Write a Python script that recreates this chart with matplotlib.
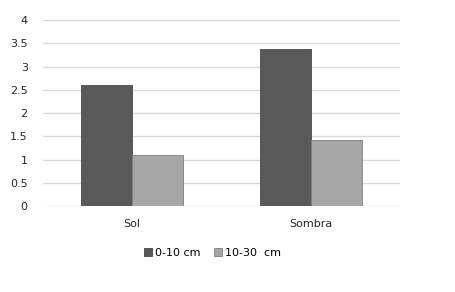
import matplotlib

matplotlib.use("Agg")
import matplotlib.pyplot as plt
import numpy as np

categories = ["Sol", "Sombra"]
series_names = ["0-10 cm", "10-30  cm"]
shallow = [2.6, 3.38]
deep = [1.1, 1.42]
y_ticks = [0, 0.5, 1, 1.5, 2, 2.5, 3, 3.5, 4]
y_tick_labels = ["0", "0.5", "1", "1.5", "2", "2.5", "3", "3.5", "4"]

plt.rcParams["font.family"] = "DejaVu Sans"
plt.rcParams["font.size"] = 8

fig = plt.figure(figsize=(4.55, 2.92), dpi=100)
ax = fig.add_axes([0.0945, 0.2945, 0.7845, 0.637])

x = np.arange(len(categories))
width = 0.286
ax.bar(x - width / 2, shallow, width, color="#595959", edgecolor="#4a4a4a",
       linewidth=0.6, label=series_names[0], zorder=3)
ax.bar(x + width / 2, deep, width, color="#a6a6a6", edgecolor="#808080",
       linewidth=0.6, label=series_names[1], zorder=3)

ax.set_xlim(-0.5, 1.5)
ax.set_ylim(0, 4)
ax.set_yticks(y_ticks, y_tick_labels)
ax.set_xticks(x, categories)
ax.yaxis.grid(True, color="#d9d9d9", linewidth=1.0, zorder=0)
for spine in ax.spines.values():
    spine.set_visible(False)
ax.tick_params(axis="both", length=0, colors="#404040", labelcolor="#262626")
ax.tick_params(axis="y", pad=11)
ax.tick_params(axis="x", pad=9)

ax.legend(loc="upper center", bbox_to_anchor=(0.475, -0.17), ncol=2,
          frameon=False, handlelength=0.7, handleheight=0.7,
          handletextpad=0.3, columnspacing=1.2)

fig.savefig("out.png", dpi=100)
